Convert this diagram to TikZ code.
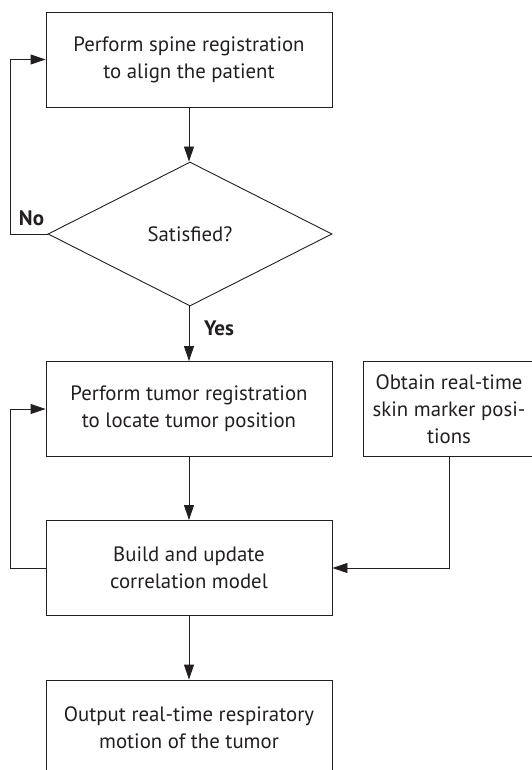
\documentclass[tikz,border=0pt]{standalone}
\usepackage{fontspec}
\setmainfont{PT Sans}
\usetikzlibrary{shapes.geometric,arrows.meta}
\definecolor{lc}{HTML}{231F20}
\begin{document}
\begin{tikzpicture}[x=1pt,y=-1pt,
  every node/.style={text=lc},
  box/.style={draw=lc, line width=0.9pt, minimum width=286pt, minimum height=95pt,
    align=center, inner sep=0pt, font=\fontsize{20.8}{27}\selectfont},
  dec/.style={diamond, draw=lc, line width=0.9pt, minimum width=284pt, minimum height=144pt,
    inner sep=0pt, font=\fontsize{20.8}{27}\selectfont},
  lbl/.style={font=\fontsize{21}{24}\selectfont\bfseries, inner sep=0pt},
  arr/.style={draw=lc, line width=0.9pt, -{Triangle[length=15pt,width=10pt]}},
]
\useasboundingbox (0,0) rectangle (532,770);
\clip (0,0) rectangle (532,770);

\node[box] (b1) at (189,59.5) {Perform spine registration\\to align the patient};
\node[dec] (d) at (190,234) {Satisfied?};
\node[box] (b2) at (189,409) {Perform tumor registration\\to locate tumor position};
\node[box, minimum width=172pt] (b3) at (449,409) {Obtain real-time\\skin marker posi-\\tions};
\node[box] (b4) at (189,568) {Build and update\\correlation model};
\node[box] (b5) at (189,727.5) {Output real-time respiratory\\motion of the tumor};

\node[lbl] (no) at (31.5,218) {No};
\node[lbl] (yes) at (219,328) {Yes};

\draw[arr] (b1) -- (b1 |- d.north);
\draw[arr] (d.west) -- ++(-37,0) |- (b1.west);
\draw[arr] (d.south -| b1) -- (b2);
\draw[arr] (b2) -- (b4);
\draw[arr] (b4.west) -- ++(-35,0) |- (b2.west);
\draw[arr] (b3.south) |- (b4.east);
\draw[arr] (b4) -- (b5);
\end{tikzpicture}
\end{document}
